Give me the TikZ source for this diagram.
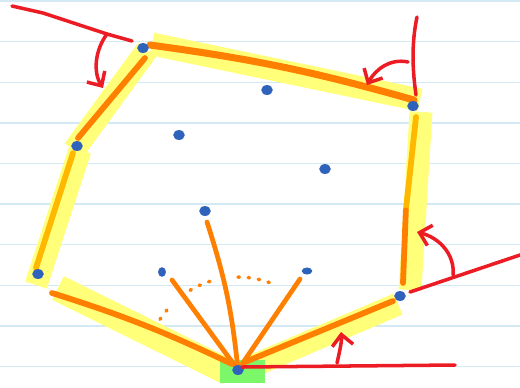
\documentclass[tikz,border=0pt]{standalone}
\usetikzlibrary{arrows.meta, calc}
\definecolor{cblue}{HTML}{2F62BA}
\definecolor{corange}{HTML}{FF7F00}
\definecolor{cgold}{HTML}{FFB800}
\definecolor{cyell}{HTML}{FFFF7A}
\definecolor{cred}{HTML}{EC1C24}
\definecolor{cgreen}{HTML}{7CF76A}
\definecolor{crule}{HTML}{D3EAF5}
\tikzset{
  dot/.style={ellipse, fill=cblue, inner sep=0pt, minimum width=6.6pt, minimum height=5.6pt},
  hull/.style={draw=#1, line width=3.3pt, line cap=round},
  hull/.default=corange,
  ray/.style={draw=corange, line width=2.7pt, line cap=round},
  glow/.style={draw=cyell, line width=13pt},
  sweep/.style={draw=cred, line width=2pt, line cap=round, line join=round},
  turn/.style={draw=cred, line width=2pt, line cap=round, -{Straight Barb[length=2.2mm, width=4.2mm]}},
  dots/.style={draw=corange, line width=2pt, line cap=round, dash pattern=on 0.8pt off 5pt},
}
\usetikzlibrary{shapes.geometric}
\begin{document}
\begin{tikzpicture}[x=0.02cm, y=-0.02cm]
  \useasboundingbox (0,0) rectangle (520,387);
  \foreach \k in {0,...,9} \draw[crule, line width=0.8pt] (0,1+40.6*\k) -- (520,1+40.6*\k);
  \foreach \n/\x/\y in {p1/143/48, p2/267/90, p3/413/106, p4/179/135, p5/77/146, p6/325/169,
    p7/205/211, p8/38/274, p9/162/272, p10/307/271, p11/400/296, p12/238/370}
    \coordinate (\n) at (\x,\y);
  \draw[glow] ($(p1)+(9,-4)$) -- ($(p3)+(7,-6)$);
  \draw[glow] ($(p3)+(8,6)$) -- ($(p11)+(10,-6)$);
  \draw[glow] ($(p1)+(4,2)$) -- ($(p5)+(-3,4)$);
  \draw[glow] ($(p5)+(3,4)$) -- ($(p8)+(-2,11)$);
  \draw[glow, line width=15pt] ($(p8)+(20,14)$) -- ($(p12)+(-10,2)$);
  \draw[glow] ($(p12)+(10,-2)$) -- ($(p11)+(-2,8)$);
  \fill[cgreen] ($(p12)+(-18,-10)$) rectangle ($(p12)+(27,13)$);
  \draw[dots] ($(p12)+(147:1.86cm)$) arc[start angle=147, end angle=137, radius=1.86cm];
  \draw[dots] ($(p12)+(121:1.86cm)$) arc[start angle=121, end angle=106, radius=1.86cm];
  \draw[dots] ($(p12)+(90:1.86cm)$) arc[start angle=90, end angle=66, radius=1.86cm];
  \draw[hull, line width=4pt] ($(p1)+(7,-3)$) to[bend left=4] ($(p3)+(1,-6)$);
  \coordinate (m311) at ($(p3)!0.55!(p11)$);
  \draw[hull=cgold] ($(p3)+(3,11)$) -- (m311);
  \draw[hull] (m311) -- ($(p11)+(3,-13)$);
  \draw[hull] ($(p1)+(2,10)$) -- ($(p5)+(1,-8)$);
  \draw[hull=cgold] ($(p5)+(-4,7)$) -- ($(p8)+(-2,-6)$);
  \draw[hull] ($(p8)+(14,19)$) to[bend left=4] ($(p12)+(-6,-6)$);
  \draw[hull] ($(p12)+(7,-8)$) -- ($(p11)+(-7,5)$);
  \draw[ray] (p12) -- ($(p9)+(10,8)$);
  \draw[ray] (p12) to[bend right=6] ($(p7)+(2,11)$);
  \draw[ray] (p12) -- ($(p10)+(-7,8)$);
  \foreach \n in {p1,p2,p3,p4,p5,p6,p7,p8,p11,p12} \node[dot] (d\n) at (\n) {};
  \node[dot, minimum width=4.5pt, minimum height=5.5pt] (dp9) at (p9) {};
  \node[dot, minimum width=6pt, minimum height=4pt] (dp10) at (p10) {};
  \coordinate (r1a) at (12,6);
  \coordinate (r1b) at (107,34);
  \coordinate (r1c) at (132,41);
  \draw[sweep] (r1a) -- (43,13) -- (r1b) -- (r1c);
  \draw[turn] (r1b) .. controls (95,50) and (93,72) .. (103,88);
  \coordinate (r2a) at (417,17);
  \coordinate (r2b) at (416,95);
  \draw[sweep] (r2a) .. controls (410,50) and (414,80) .. (r2b);
  \draw[turn] (408,62) .. controls (390,58) and (375,70) .. (367,85);
  \coordinate (r3a) at (410,292);
  \coordinate (r3b) at (520,255);
  \draw[sweep] (r3a) -- (r3b);
  \draw[turn] (453,275) .. controls (455,255) and (440,238) .. (417,232);
  \coordinate (r4a) at (242,367);
  \coordinate (r4b) at (455,365);
  \draw[sweep] (r4a) -- (r4b);
  \draw[turn] (337,363) .. controls (340,350) and (342,340) .. (341,332);
\end{tikzpicture}
\end{document}
